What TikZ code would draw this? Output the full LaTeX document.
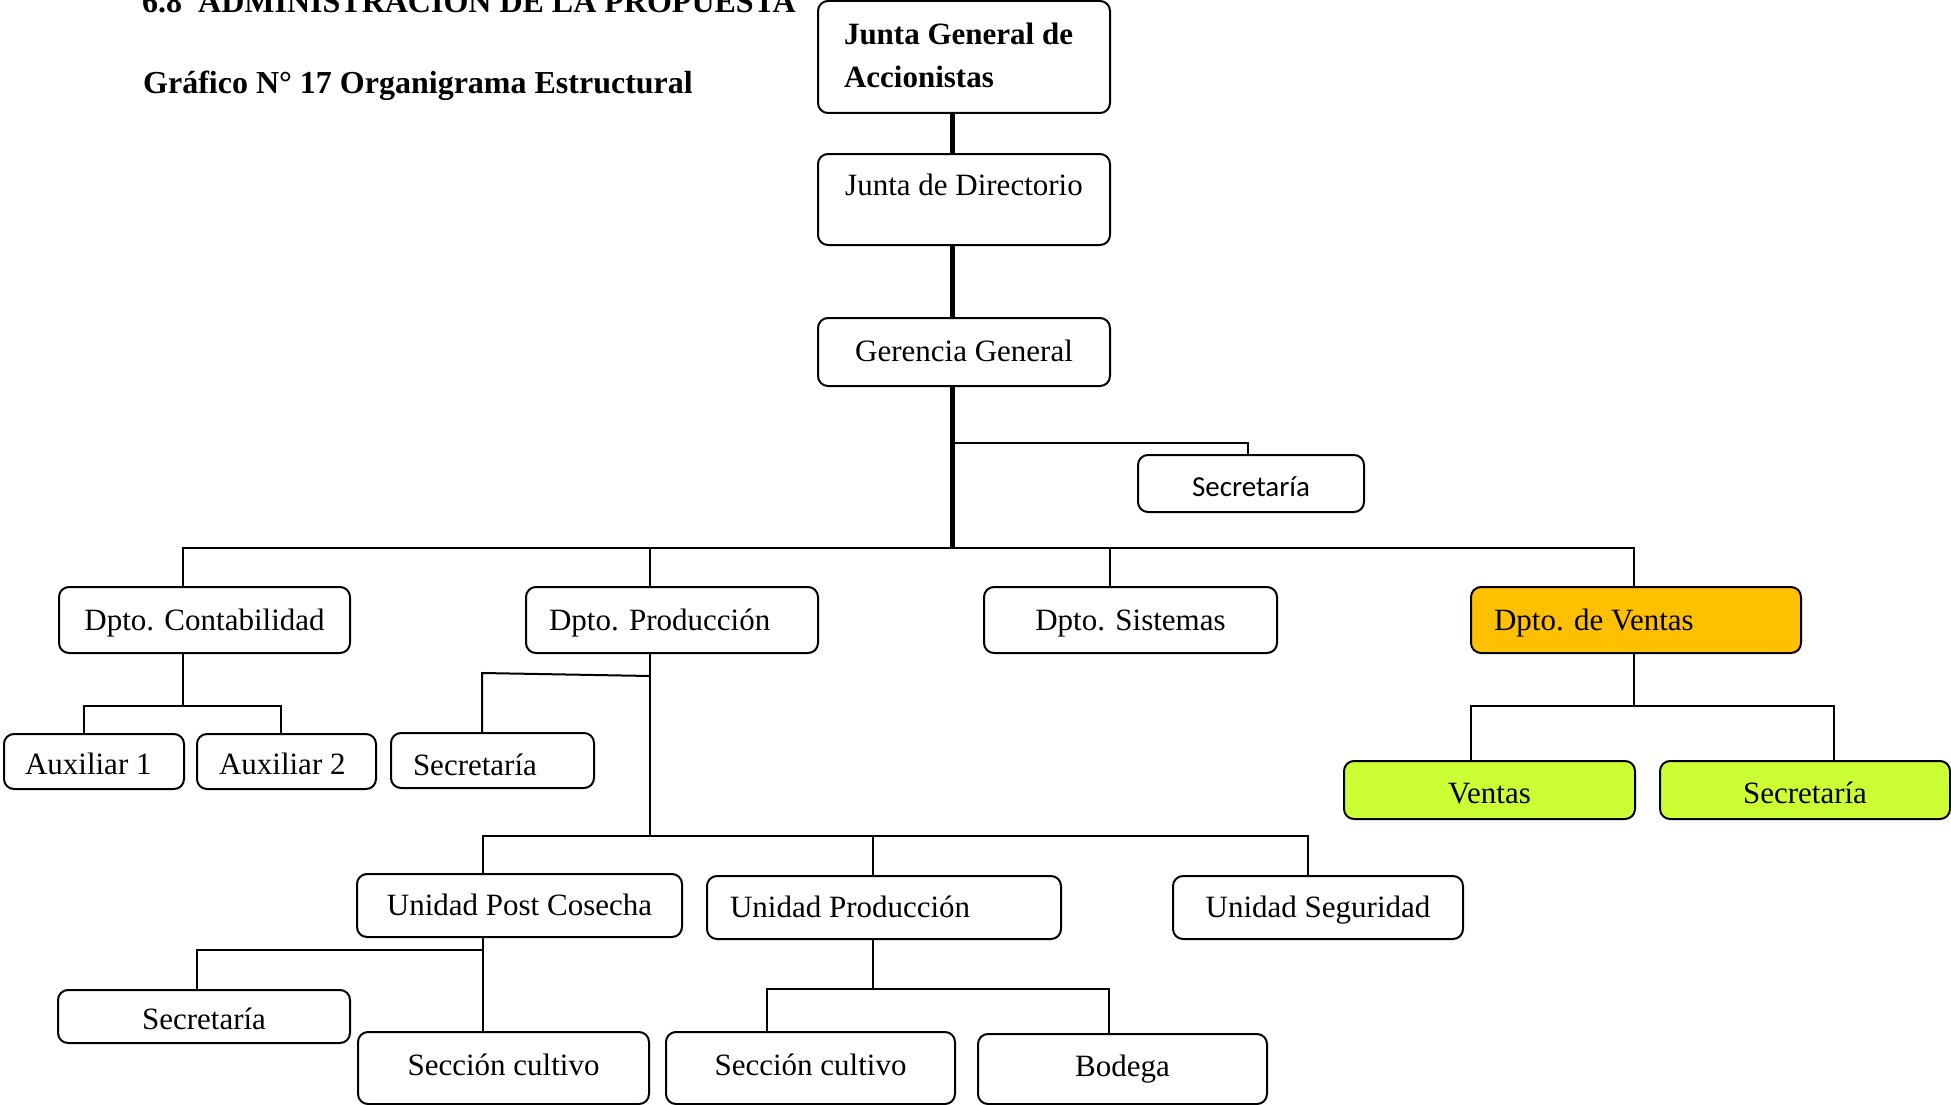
\documentclass[tikz,border=0pt]{standalone}
\usepackage{fontspec}
\setmainfont{Liberation Serif}
\newfontfamily\calfont{Carlito}
\definecolor{orng}{HTML}{FFC000}
\definecolor{lime}{HTML}{CCFF33}
\newcommand\LBx[2]{\makebox[#1pt][l]{#2}}
\begin{document}
\begin{tikzpicture}[x=1pt,y=-1pt,
  box/.style={draw, line width=2pt, rounded corners=10pt, fill=white, inner sep=0pt, font=\fontsize{31}{37}\selectfont},
  b7/.style={text height=22pt, text depth=8pt},
  b10/.style={text height=25pt, text depth=5pt},
  b13/.style={text height=28pt, text depth=2pt},
  ln/.style={line width=2pt},
  spine/.style={line width=5pt},
  ttl/.style={inner sep=0pt, anchor=base west, font=\bfseries\fontsize{32}{38}\selectfont}
]
\fill[white] (0,0) rectangle (1951,1105);
\useasboundingbox (0,0) rectangle (1951,1105);

% titles
\node[ttl] (t1) at (142,13) {6.8\ \ ADMINISTRACIÓN DE LA PROPUESTA};
\node[ttl] (t2) at (143,94) {Gráfico N° 17 Organigrama Estructural};

% top chain
\node[box, minimum width=292pt, minimum height=112pt, text height=44pt, text depth=68pt,
      font=\bfseries\fontsize{31}{43}\selectfont] (jg) at (964,57)
      {\parbox[t]{240pt}{\raggedright Junta General de\\Accionistas}};
\node[box, minimum width=292pt, minimum height=91pt, text height=10.5pt, text depth=19.5pt] (jd) at (964,199.5) {Junta de Directorio};
\node[box, minimum width=292pt, minimum height=68pt, text height=24pt, text depth=6pt] (gg) at (964,352) {Gerencia General};
\node[box, font=\calfont\fontsize{29}{35}\selectfont, minimum width=226pt, minimum height=57pt, text height=27.5pt, text depth=2.5pt] (sg) at (1251,483.5) {Secretaría};

% departments
\node[box, b10, minimum width=291pt, minimum height=66pt] (dc) at (204.5,620) {Dpto. Contabilidad};
\node[box, b10, minimum width=292pt, minimum height=66pt] (dp) at (672,620) {\LBx{246}{Dpto. Producción}};
\node[box, b10, minimum width=293pt, minimum height=66pt] (ds) at (1130.5,620) {Dpto. Sistemas};
\node[box, b10, fill=orng, minimum width=330pt, minimum height=66pt] (dv) at (1636,620) {\LBx{284}{Dpto. de Ventas}};

% contabilidad
\node[box, b13, minimum width=180pt, minimum height=55pt] (a1) at (94,761.5) {\LBx{138}{Auxiliar 1}};
\node[box, b13, minimum width=179pt, minimum height=55pt] (a2) at (286.5,761.5) {\LBx{135}{Auxiliar 2}};

% produccion
\node[box, minimum width=203pt, minimum height=55pt, text height=29.5pt, text depth=0.5pt] (sp) at (492.5,760.5) {\LBx{159}{Secretaría}};
\node[box, b10, minimum width=325pt, minimum height=63pt] (upc) at (519.5,905.5) {Unidad Post Cosecha};
\node[box, b10, minimum width=354pt, minimum height=63pt] (upr) at (884,907.5) {\LBx{308}{Unidad Producción}};
\node[box, b10, minimum width=290pt, minimum height=63pt] (us) at (1318,907.5) {Unidad Seguridad};
\node[box, b13, minimum width=292pt, minimum height=53pt] (spc) at (204,1016.5) {Secretaría};
\node[box, b7, minimum width=291pt, minimum height=72pt] (sc1) at (503.5,1068) {Sección cultivo};
\node[box, b7, minimum width=289pt, minimum height=72pt] (sc2) at (810.5,1068) {Sección cultivo};
\node[box, b7, minimum width=289pt, minimum height=70pt] (bod) at (1122.5,1069) {Bodega};

% ventas
\node[box, b13, fill=lime, minimum width=291pt, minimum height=58pt] (vv) at (1489.5,790) {Ventas};
\node[box, b13, fill=lime, minimum width=290pt, minimum height=58pt] (vs) at (1805,790) {Secretaría};

% connectors
\coordinate (sx) at (952,0);
\coordinate (bus) at (0,548);
\draw[spine] (jg.south -| sx) -- (jd.north -| sx);
\draw[spine] (jd.south -| sx) -- (gg.north -| sx);
\draw[spine] (gg.south -| sx) -- (sx |- bus);
\coordinate (sgx) at (1248,443);
\draw[ln] (sx |- sgx) -- (sgx) -- (sg.north -| sgx);

\coordinate (xc) at (183,0);
\coordinate (xp) at (650,0);
\coordinate (xs) at (1110,0);
\coordinate (xv) at (1634,0);
\draw[ln] (dc.north -| xc) -- (xc |- bus) -- (xv |- bus) -- (dv.north -| xv);
\draw[ln] (xp |- bus) -- (dp.north -| xp);
\draw[ln] (xs |- bus) -- (ds.north -| xs);

\coordinate (ca) at (0,706);
\coordinate (a1x) at (84,0);
\coordinate (a2x) at (281,0);
\draw[ln] (dc.south -| xc) -- (xc |- ca);
\draw[ln] (a1.north -| a1x) -- (a1x |- ca) -- (a2x |- ca) -- (a2.north -| a2x);

\coordinate (pbus) at (0,836);
\coordinate (pj) at (650,676);
\coordinate (sj) at (482,673);
\draw[ln] (dp.south -| xp) -- (xp |- pbus);
\draw[ln] (pj) -- (sj) -- (sp.north -| sj);

\coordinate (ux1) at (483,0);
\coordinate (ux2) at (873,0);
\coordinate (ux3) at (1308,0);
\draw[line width=2.5pt] (upc.north -| ux1) -- (ux1 |- pbus) -- (ux3 |- pbus) -- (us.north -| ux3);
\draw[ln] (ux2 |- pbus) -- (upr.north -| ux2);

\coordinate (pcb) at (197,950);
\draw[ln] (upc.south -| ux1) -- (sc1.north -| ux1);
\draw[ln] (ux1 |- pcb) -- (pcb) -- (spc.north -| pcb);

\coordinate (upb) at (0,989);
\coordinate (q1) at (767,0);
\coordinate (q2) at (1109,0);
\draw[ln] (upr.south -| ux2) -- (ux2 |- upb);
\draw[ln] (sc2.north -| q1) -- (q1 |- upb) -- (q2 |- upb) -- (bod.north -| q2);

\coordinate (vb) at (0,706);
\coordinate (v1) at (1471,0);
\coordinate (v2) at (1834,0);
\draw[ln] (dv.south -| xv) -- (xv |- vb);
\draw[ln] (vv.north -| v1) -- (v1 |- vb) -- (v2 |- vb) -- (vs.north -| v2);
\end{tikzpicture}
\end{document}
